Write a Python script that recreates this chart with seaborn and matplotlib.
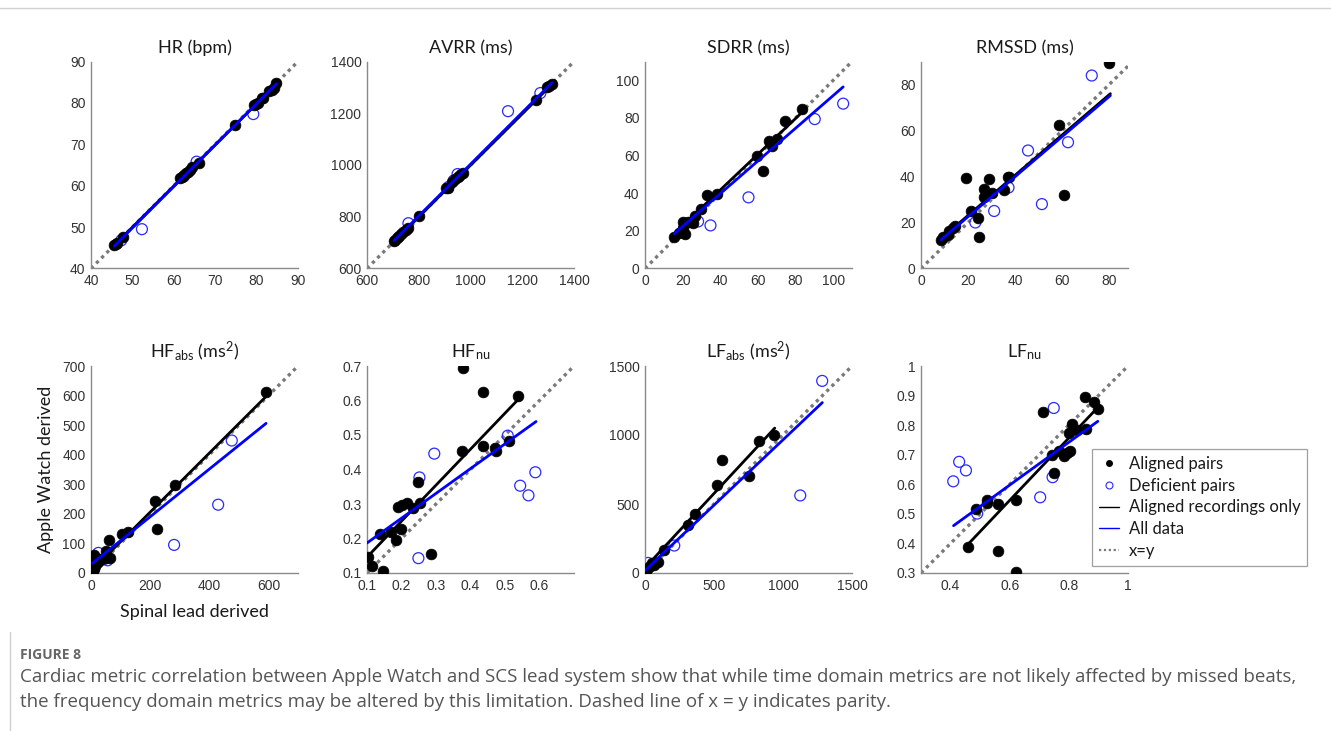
import numpy as np
import pandas as pd
import matplotlib
matplotlib.use("Agg")
import matplotlib.pyplot as plt
from matplotlib.lines import Line2D
import seaborn as sns

# ---------------- data ----------------
titles = ["HR (bpm)", "AVRR (ms)", "SDRR (ms)", "RMSSD (ms)",
          r"HF$_{\mathrm{abs}}$ (ms$^{\mathrm{2}}$)", r"HF$_{\mathrm{nu}}$",
          r"LF$_{\mathrm{abs}}$ (ms$^{\mathrm{2}}$)", r"LF$_{\mathrm{nu}}$"]

# HR
hr_al_x = [45.6, 46.0, 46.4, 47.8, 61.6, 62.0, 62.5, 63.0, 63.4, 63.8, 64.4, 66.0, 74.9, 79.4, 79.9, 80.3, 81.2, 81.5, 83.0, 83.6, 84.2, 84.8]
hr_al_y = [45.7, 45.9, 46.2, 47.7, 61.8, 62.2, 62.6, 63.0, 63.4, 63.8, 64.6, 65.6, 74.7, 79.5, 79.8, 79.9, 81.3, 81.2, 82.9, 83.2, 83.5, 84.7]
hr_df_x = [47.3, 52.3, 62.4, 65.5, 79.2]
hr_df_y = [46.8, 49.5, 62.2, 65.8, 77.3]
hr_fit_al = [45.6, 45.6, 84.8, 84.6]
hr_fit_all = [45.6, 45.4, 84.8, 84.6]

# AVRR
avrr_al_x = [705, 710, 715, 720, 725, 730, 740, 750, 760, 800, 905, 912, 930, 940, 950, 955, 965, 972, 1255, 1295, 1305, 1315]
avrr_al_y = [708, 712, 718, 722, 727, 732, 740, 748, 758, 802, 912, 913, 935, 945, 952, 958, 965, 970, 1252, 1300, 1305, 1312]
avrr_df_x = [760, 915, 935, 950, 1145, 1270]
avrr_df_y = [775, 915, 940, 965, 1208, 1278]
avrr_fit_al = [705, 705, 1315, 1312]
avrr_fit_all = [705, 708, 1315, 1318]

# SDRR
sdrr_al_x = [15.5, 18.3, 20.1, 21.3, 20.4, 23.1, 25.4, 26.6, 29.8, 32.7, 38.4, 59.5, 62.5, 66.1, 67.3, 70.2, 74.2, 83.5]
sdrr_al_y = [16.7, 19.1, 24.5, 18.3, 21.5, 24.5, 24.3, 28.0, 31.7, 39.0, 39.7, 60.0, 51.8, 67.6, 64.9, 69.0, 78.2, 84.8]
sdrr_df_x = [28.2, 34.8, 55.0, 90.2, 105.3]
sdrr_df_y = [25.0, 22.9, 37.8, 79.4, 87.6]
sdrr_fit_al = [15.5, 18.5, 84.0, 83.5]
sdrr_fit_all = [15.5, 18.5, 105.3, 96.5]

# RMSSD
rmssd_al_x = [8.5, 9.4, 11.6, 12.1, 13.5, 14.5, 19.1, 21.3, 24.4, 24.8, 26.6, 26.6, 29.0, 30.0, 35.1, 36.9, 37.6, 58.6, 60.7, 80.1]
rmssd_al_y = [12.2, 13.9, 14.7, 16.1, 17.6, 18.6, 39.2, 25.0, 21.9, 13.7, 34.6, 31.0, 39.0, 32.8, 34.0, 39.6, 39.9, 62.2, 32.0, 89.2]
rmssd_df_x = [23.1, 31.1, 37.2, 45.5, 51.4, 62.5, 72.6]
rmssd_df_y = [20.0, 25.0, 35.2, 51.3, 28.0, 54.9, 83.9]
rmssd_fit_al = [8.5, 13.0, 80.5, 76.0]
rmssd_fit_all = [8.5, 12.5, 80.5, 75.2]

# HF abs
hfa_al_x = [592, 284, 218, 223, 124, 105, 60, 51, 65, 51, 9, 9, 13, 20, 28, 34, 5, 7]
hfa_al_y = [611, 298, 242, 150, 137, 131, 110, 73, 50, 51, 62, 14, 22, 34, 42, 48, 45, 7]
hfa_df_x = [476, 430, 281, 25, 43, 56, 17]
hfa_df_y = [448, 231, 95, 68, 47, 43, 39]
hfa_fit_al = [5, 11, 592, 597]
hfa_fit_all = [5, 33, 592, 506]

# HF nu
hfn_al_x = [0.102, 0.114, 0.145, 0.138, 0.170, 0.184, 0.199, 0.191, 0.202, 0.215, 0.234, 0.247, 0.254, 0.286, 0.376, 0.378, 0.436, 0.436, 0.472, 0.474, 0.511, 0.537]
hfn_al_y = [0.146, 0.121, 0.107, 0.213, 0.219, 0.197, 0.227, 0.291, 0.298, 0.303, 0.288, 0.363, 0.303, 0.155, 0.454, 0.694, 0.626, 0.467, 0.462, 0.454, 0.484, 0.614]
hfn_df_x = [0.249, 0.252, 0.295, 0.508, 0.544, 0.568, 0.588]
hfn_df_y = [0.143, 0.377, 0.446, 0.498, 0.353, 0.325, 0.392]
hfn_fit_al = [0.100, 0.146, 0.542, 0.607]
hfn_fit_all = [0.100, 0.187, 0.590, 0.539]

# LF abs
lfa_al_x = [2, 10, 19, 38, 50, 62, 91, 135, 308, 363, 519, 555, 752, 825, 935]
lfa_al_y = [24, 12, 36, 48, 73, 61, 80, 165, 351, 424, 637, 816, 702, 956, 998]
lfa_df_x = [22, 212, 1125, 1284]
lfa_df_y = [73, 199, 562, 1392]
lfa_fit_al = [2, 40, 940, 1050]
lfa_fit_all = [2, 20, 1285, 1235]

# LF nu
lfn_al_x = [0.460, 0.486, 0.522, 0.524, 0.559, 0.559, 0.620, 0.620, 0.712, 0.742, 0.749, 0.765, 0.782, 0.793, 0.805, 0.799, 0.810, 0.827, 0.859, 0.853, 0.886, 0.897]
lfn_al_y = [0.388, 0.517, 0.546, 0.537, 0.533, 0.373, 0.548, 0.303, 0.845, 0.698, 0.638, 0.712, 0.697, 0.706, 0.712, 0.774, 0.805, 0.782, 0.787, 0.896, 0.879, 0.853]
lfn_df_x = [0.409, 0.429, 0.452, 0.490, 0.703, 0.745, 0.749]
lfn_df_y = [0.610, 0.676, 0.647, 0.501, 0.556, 0.624, 0.858]
lfn_fit_al = [0.458, 0.396, 0.898, 0.860]
lfn_fit_all = [0.410, 0.460, 0.898, 0.813]

# axis limits / ticks
xlims = [(40, 90), (600, 1400), (0, 110), (0, 88), (0, 700), (0.1, 0.7), (0, 1500), (0.3, 1.0)]
ylims = [(40, 90), (600, 1400), (0, 110), (0, 90), (0, 700), (0.1, 0.7), (0, 1500), (0.3, 1.0)]
xticks = [[40, 50, 60, 70, 80, 90], [600, 800, 1000, 1200, 1400], [0, 20, 40, 60, 80, 100], [0, 20, 40, 60, 80],
          [0, 200, 400, 600], [0.1, 0.2, 0.3, 0.4, 0.5, 0.6], [0, 500, 1000, 1500], [0.4, 0.6, 0.8, 1.0]]
yticks = [[40, 50, 60, 70, 80, 90], [600, 800, 1000, 1200, 1400], [0, 20, 40, 60, 80, 100], [0, 20, 40, 60, 80],
          [0, 100, 200, 300, 400, 500, 600, 700], [0.1, 0.2, 0.3, 0.4, 0.5, 0.6, 0.7], [0, 500, 1000, 1500],
          [0.3, 0.4, 0.5, 0.6, 0.7, 0.8, 0.9, 1.0]]

legend_labels = ["Aligned pairs", "Deficient pairs", "Aligned recordings only", "All data", "x=y"]
ylabel_text = "Apple Watch derived"
xlabel_text = "Spinal lead derived"
fig_label = "FIGURE 8"
caption_lines = ["Cardiac metric correlation between Apple Watch and SCS lead system show that while time domain metrics are not likely affected by missed beats,",
                 "the frequency domain metrics may be altered by this limitation. Dashed line of x = y indicates parity."]

panels = [
    (hr_al_x, hr_al_y, hr_df_x, hr_df_y, hr_fit_al, hr_fit_all),
    (avrr_al_x, avrr_al_y, avrr_df_x, avrr_df_y, avrr_fit_al, avrr_fit_all),
    (sdrr_al_x, sdrr_al_y, sdrr_df_x, sdrr_df_y, sdrr_fit_al, sdrr_fit_all),
    (rmssd_al_x, rmssd_al_y, rmssd_df_x, rmssd_df_y, rmssd_fit_al, rmssd_fit_all),
    (hfa_al_x, hfa_al_y, hfa_df_x, hfa_df_y, hfa_fit_al, hfa_fit_all),
    (hfn_al_x, hfn_al_y, hfn_df_x, hfn_df_y, hfn_fit_al, hfn_fit_all),
    (lfa_al_x, lfa_al_y, lfa_df_x, lfa_df_y, lfa_fit_al, lfa_fit_all),
    (lfn_al_x, lfn_al_y, lfn_df_x, lfn_df_y, lfn_fit_al, lfn_fit_all),
]

# ---------------- style ----------------
sns.set_style("white")
plt.rcParams["font.family"] = ["Liberation Sans", "DejaVu Sans"]
plt.rcParams["mathtext.fontset"] = "custom"
plt.rcParams["mathtext.rm"] = "Lato"
plt.rcParams["mathtext.it"] = "Lato:italic"

W, H = 1331, 731
fig = plt.figure(figsize=(W / 100, H / 100), dpi=100)

col_left = [91, 367, 645, 921]
row_top = [61.5, 366]
ax_w, ax_h = 207, 207

AX_COL = "#8a8a8a"
TICK_COL = "#333333"
BLUE = "#2a2aff"
DOT = "#7a7a7a"

for i, (alx, aly, dfx, dfy, fal, fall) in enumerate(panels):
    r, c = divmod(i, 4)
    l = col_left[c] / W
    b = 1 - (row_top[r] + ax_h) / H
    ax = fig.add_axes([l, b, ax_w / W, ax_h / H])

    lo = min(xlims[i][0], ylims[i][0])
    hi = max(xlims[i][1], ylims[i][1])
    ax.plot([lo, hi], [lo, hi], color=DOT, lw=2.4, linestyle=(0, (1, 1.2)), zorder=1)

    sns.scatterplot(x=dfx, y=dfy, ax=ax, marker="o", s=62, facecolors="none",
                    edgecolor=BLUE, linewidth=0.9, zorder=2)
    sns.scatterplot(x=alx, y=aly, ax=ax, marker="o", s=60, color="black",
                    edgecolor="black", linewidth=0.5, zorder=3)
    sns.lineplot(x=[fal[0], fal[2]], y=[fal[1], fal[3]], ax=ax, color="black", lw=2.0, zorder=4)
    sns.lineplot(x=[fall[0], fall[2]], y=[fall[1], fall[3]], ax=ax, color="#0000ff", lw=2.0, zorder=5)

    ax.set_xlim(*xlims[i])
    ax.set_ylim(*ylims[i])
    ax.set_xticks(xticks[i])
    ax.set_yticks(yticks[i])
    ax.set_xticklabels(["%g" % v for v in xticks[i]])
    ax.set_yticklabels(["%g" % v for v in yticks[i]])
    ax.tick_params(direction="in", length=3, width=0.8, color=AX_COL, labelsize=10,
                   labelcolor=TICK_COL, pad=4)
    for s in ["top", "right"]:
        ax.spines[s].set_visible(False)
    for s in ["left", "bottom"]:
        ax.spines[s].set_color(AX_COL)
        ax.spines[s].set_linewidth(1.0)
    ax.set_title(titles[i], fontsize=13, family=["Lato", "DejaVu Sans"], color="#1a1a1a", pad=6)
    ax.set_xlabel("")
    ax.set_ylabel("")
    if i == 4:
        ax.set_ylabel(ylabel_text, fontsize=13, family=["Lato", "DejaVu Sans"], color="#1a1a1a", labelpad=6)
        ax.set_xlabel(xlabel_text, fontsize=13, family=["Lato", "DejaVu Sans"], color="#1a1a1a", labelpad=8)

# legend
handles = [
    Line2D([], [], marker="o", ls="none", color="black", markersize=4),
    Line2D([], [], marker="o", ls="none", markerfacecolor="none", markeredgecolor=BLUE, markersize=5, markeredgewidth=0.8),
    Line2D([], [], color="black", lw=1.0),
    Line2D([], [], color="#0000ff", lw=1.0),
    Line2D([], [], color=DOT, lw=1.6, linestyle=(0, (1, 1.2))),
]
leg = fig.legend(handles, legend_labels, loc="upper left", bbox_to_anchor=(1092 / W, 1 - 449 / H),
                 frameon=True, fancybox=False, borderaxespad=0, handlelength=1.2, handletextpad=0.6,
                 labelspacing=0.35, borderpad=0.4, prop={"family": ["Lato", "DejaVu Sans"], "size": 12})
leg.get_frame().set_edgecolor("#888888")
leg.get_frame().set_linewidth(0.9)
for t in leg.get_texts():
    t.set_color("#1a1a1a")

# caption and frame lines
fig.add_artist(Line2D([0, 1], [1 - 8 / H, 1 - 8 / H], color="#d0d0d0", lw=1.0))
fig.add_artist(Line2D([10 / W, 10 / W], [0, 1 - 632 / H], color="#d0d0d0", lw=1.0))
fig.text(20 / W, 1 - 655 / H, fig_label, fontsize=10, fontweight="bold", color="#666666",
         family=["Open Sans", "DejaVu Sans"], va="center")
for k, line in enumerate(caption_lines):
    fig.text(20 / W, 1 - (677 + 25 * k) / H, line, fontsize=13.5, color="#555555",
             family=["Open Sans", "DejaVu Sans"], va="center")

fig.savefig("out.png", dpi=100)
